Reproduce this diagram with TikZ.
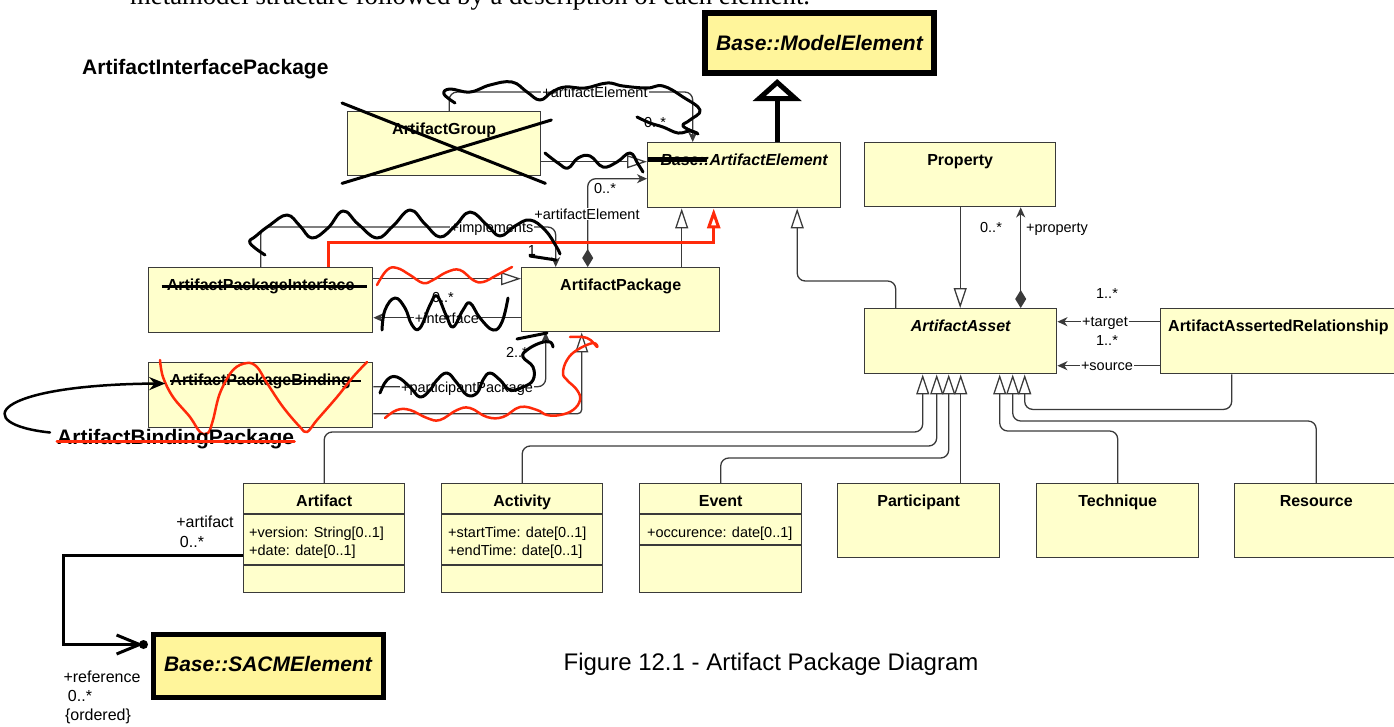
\documentclass[tikz,border=0pt]{standalone}
\usepackage{fontspec}
\setmainfont{Liberation Sans}
\newfontfamily\bodyserif{Liberation Serif}
\usetikzlibrary{positioning, arrows.meta}
\definecolor{clsfill}{HTML}{FFFFCC}
\definecolor{hotfill}{HTML}{FFF59B}
\definecolor{clsline}{HTML}{3A3A3A}
\definecolor{redink}{HTML}{FF2A0A}

\begin{document}
\begin{tikzpicture}[x=1pt, y=-1pt,
		cls/.style={draw=clsline, fill=clsfill, line width=1.4pt, inner sep=0pt, anchor=north west},
		hot/.style={draw=black, fill=hotfill, line width=6pt, inner sep=0pt, anchor=north west},
		cname/.style={font=\fontsize{16}{16}\selectfont\bfseries, inner sep=0pt, text height=11.5pt, text depth=0pt},
		cnamei/.style={cname, font=\fontsize{16}{16}\selectfont\bfseries\itshape},
		ttl/.style={font=\fontsize{21}{21}\selectfont\bfseries, inner sep=0pt, text height=15pt, text depth=0pt},
		attr/.style={font=\fontsize{14.5}{14.5}\selectfont, inner sep=0pt, anchor=base west},
		lbl/.style={font=\fontsize{14.5}{14.5}\selectfont, inner sep=1pt, text height=10.5pt, text depth=0pt},
		lblb/.style={lbl, font=\fontsize{16}{16}\selectfont, text height=11.5pt},
		lblw/.style={lbl, fill=white},
		conn/.style={draw=clsline, line width=1.3pt},
		gen/.style={conn, -{Triangle[length=20pt, width=13pt, fill=white]}},
		nav/.style={conn, -{Stealth[length=10pt, width=9pt, inset=3pt]}},
		comp/.style={conn, {Diamond[length=18pt, width=11pt]}-{Stealth[length=10pt, width=9pt, inset=3pt]}},
		strike/.style={line width=2.5pt},
		scrib/.style={line width=3pt, line cap=round, line join=round},
		rscrib/.style={scrib, draw=redink, line width=2.5pt}]
		\useasboundingbox (0,0) rectangle (1394,726);
		\clip (0,0) rectangle (1394,726);
		%%%%%%%%%%%%%
		\node[anchor=base west, inner sep=0pt, font=\bodyserif\fontsize{26.7}{26.7}\selectfont] (intro) at (130,4) {metamodel structure followed by a description of each element.};
		\node[ttl, anchor=base west] (ttlN) at (82,74) {ArtifactInterfacePackage};
		\node[font=\fontsize{24}{24}\selectfont, inner sep=0pt, anchor=base] (caption) at (771,670) {Figure 12.1 - Artifact Package Diagram};
		%%%%%%%%%%%%%
		\node[hot, minimum width=229pt, minimum height=60pt] (model) at (702,10) {};
		\node[ttl, font=\fontsize{21}{21}\selectfont\bfseries\itshape] (modelN) at (model.center) {Base::ModelElement};
		\node[hot, line width=5pt, minimum width=230pt, minimum height=63pt] (sacm) at (150.5,631.5) {};
		\node[ttl, font=\fontsize{21}{21}\selectfont\bfseries\itshape] (sacmN) at ([yshift=2pt]sacm.center) {Base::SACMElement};
		%%%%%%%%%%%%%
		\node[cls, minimum width=193pt, minimum height=64pt] (grp) at (347,111) {};
		\node[cls, minimum width=193pt, minimum height=65pt] (elem) at (647,142) {};
		\node[cls, minimum width=198pt, minimum height=64pt] (pkg) at (521,267) {};
		\node[cls, minimum width=224pt, minimum height=65pt] (iface) at (148,267) {};
		\node[cls, minimum width=224pt, minimum height=65pt] (bind) at (148,362) {};
		\node[cls, minimum width=191pt, minimum height=64pt] (prop) at (864,142) {};
		\node[cls, minimum width=192pt, minimum height=65pt] (asset) at (864,308) {};
		\node[cls, minimum width=240pt, minimum height=65pt] (rel) at (1160,308) {};
		\node[cls, minimum width=161pt, minimum height=109pt] (art) at (243,483) {};
		\node[cls, minimum width=161pt, minimum height=109pt] (act) at (441,483) {};
		\node[cls, minimum width=162pt, minimum height=109pt] (evt) at (639,483) {};
		\node[cls, minimum width=162pt, minimum height=74pt] (par) at (837,483) {};
		\node[cls, minimum width=162pt, minimum height=74pt] (tech) at (1036,483) {};
		\node[cls, minimum width=163pt, minimum height=74pt] (res) at (1234,483) {};
		%%%%%%%%%%%%%
		\node[cname, below=11.5pt of grp.north] (grpN) {ArtifactGroup};
		\node[cnamei, below=11.5pt of elem.north] (elemN) {Base::ArtifactElement};
		\node[cname, below=11.5pt of pkg.north] (pkgN) {ArtifactPackage};
		\node[cname, below=11.5pt of iface.north] (ifaceN) {ArtifactPackageInterface};
		\node[cname, below=11.5pt of bind.north] (bindN) {ArtifactPackageBinding};
		\node[cname, below=11.5pt of prop.north] (propN) {Property};
		\node[cnamei, below=11.5pt of asset.north] (assetN) {ArtifactAsset};
		\node[cname, anchor=north west] (relN) at (1168,319.5) {ArtifactAssertedRelationship};
		\node[cname, below=11.5pt of art.north] (artN) {Artifact};
		\node[cname, below=11.5pt of act.north] (actN) {Activity};
		\node[cname, below=11.5pt of evt.north] (evtN) {Event};
		\node[cname, below=11.5pt of par.north] (parN) {Participant};
		\node[cname, below=11.5pt of tech.north] (techN) {Technique};
		\node[cname, below=11.5pt of res.north] (resN) {Resource};
		%%%%%%%%%%%%%
		\draw[conn] ([yshift=-31pt]art.north west) -- ([yshift=-31pt]art.north east);
		\draw[conn] ([yshift=-82pt]art.north west) -- ([yshift=-82pt]art.north east);
		\draw[conn] ([yshift=-31pt]act.north west) -- ([yshift=-31pt]act.north east);
		\draw[conn] ([yshift=-82pt]act.north west) -- ([yshift=-82pt]act.north east);
		\draw[conn] ([yshift=-31pt]evt.north west) -- ([yshift=-31pt]evt.north east);
		\draw[conn] ([yshift=-62pt]evt.north west) -- ([yshift=-62pt]evt.north east);
		\node[attr] (artV) at (249,537) {+version: String[0..1]};
		\node[attr] (artD) at (249,555) {+date: date[0..1]};
		\node[attr] (actS) at (448,537) {+startTime: date[0..1]};
		\node[attr] (actE) at (448,555) {+endTime: date[0..1]};
		\node[attr] (evtO) at (647,537) {+occurence: date[0..1]};
		%%%%%%%%%%%%%
		\draw[line width=5pt, shorten >=3pt, -{Triangle[length=22pt, width=48pt, fill=white]}] ([xshift=33pt]elem.north) -- ([xshift=33pt]elem.north |- model.south);
		\draw[gen] ([yshift=-18pt]grp.east) -- ([yshift=-18pt]grp.east -| elem.west);
		\draw[nav, rounded corners=8pt] ([xshift=5pt]grp.north) -- ++(0,-19) -| ([xshift=-51.5pt]elem.north);
		\draw[comp, rounded corners=8pt] ([xshift=-33pt]pkg.north) |- ([yshift=-3.5pt]elem.west);
		\draw[gen] ([xshift=61pt]pkg.north) -- ([xshift=61pt]pkg.north |- elem.south);
		\draw[nav, rounded corners=8pt] (iface.north) -- ++(0,-40) -| ([xshift=-65pt]pkg.north);
		\draw[gen] ([yshift=21.5pt]iface.east) -- ([yshift=21.5pt]iface.east -| pkg.west);
		\draw[nav] ([yshift=-18pt]pkg.west) -- ([yshift=-18pt]pkg.west -| iface.east);
		\draw[nav, rounded corners=8pt] ([yshift=8.5pt]bind.east) -| ([xshift=-75pt]pkg.south);
		\draw[gen, rounded corners=4pt] ([yshift=-18.5pt]bind.east) -| ([xshift=-39pt]pkg.south);
		\draw[gen, rounded corners=8pt] ([xshift=-65pt]asset.north) -- ++(0,-27) -| ([xshift=53pt]elem.south);
		\draw[gen] (prop.south) -- (prop.south |- asset.north);
		\draw[comp] ([xshift=60pt]asset.north) -- ([xshift=60pt]asset.north |- prop.south);
		\draw[nav] ([yshift=19.5pt]rel.west) -- ([yshift=19.5pt]rel.west -| asset.east);
		\draw[nav] ([yshift=-24.5pt]rel.west) -- ([yshift=-24.5pt]rel.west -| asset.east);
		\draw[gen, rounded corners=8pt] (art.north) -- ++(0,-51) -| ([xshift=-38pt]asset.south);
		\draw[gen, rounded corners=8pt] (act.north) -- ++(0,-37) -| ([xshift=-24pt]asset.south);
		\draw[gen, rounded corners=8pt] (evt.north) -- ++(0,-25) -| ([xshift=-12pt]asset.south);
		\draw[gen] (par.north -| asset.south) -- (asset.south);
		\draw[gen, rounded corners=8pt] (tech.north) -- ++(0,-52) -| ([xshift=39pt]asset.south);
		\draw[gen, rounded corners=8pt] (res.north) -- ++(0,-62) -| ([xshift=52pt]asset.south);
		\draw[gen, rounded corners=8pt] ([xshift=-49pt]rel.south) -- ++(0,35) -| ([xshift=64pt]asset.south);
		\draw[line width=3pt, -{Straight Barb[length=23pt, width=19pt]}] ([yshift=-17.5pt]art.west) -- ++(-180,0) |- ([xshift=-7pt, yshift=21pt]sacm.west);
		\fill ([xshift=-7pt, yshift=21pt]sacm.west) circle (4.5pt);
		%%%%%%%%%%%%%
		\node[lblw] (l1) at (595,92) {+artifactElement};
		\node[lbl] (l2) at (655,122) {0..*};
		\node[lbl] (l3) at (605,188) {0..*};
		\node[lblw] (l4) at (587,214) {+artifactElement};
		\node[lblw] (l5) at (492,227) {+implements};
		\node[lbl] (l6) at (532,250) {1};
		\node[lbl] (l7) at (443,297) {0..*};
		\node[lblw] (l8) at (447,318) {+interface};
		\node[lbl] (l9) at (517,352) {2..*};
		\node[lblw] (l10) at (467,387) {+participantPackage};
		\node[lbl] (l11) at (991,227) {0..*};
		\node[lbl] (l12) at (1057,227) {+property};
		\node[lbl] (l13) at (1107,293) {1..*};
		\node[lblw] (l14) at (1105,321) {+target};
		\node[lbl] (l15) at (1107,340) {1..*};
		\node[lblw] (l16) at (1107,365) {+source};
		\node[lblb] (l17) at (205,522) {+artifact};
		\node[lblb] (l18) at (192,542) {0..*};
		\node[lblb] (l19) at (102,677) {+reference};
		\node[lblb] (l20) at (80,696) {0..*};
		\node[lblb] (l21) at (98,715) {\{ordered\}};
		%%%%%%%%%%%%%
		\draw[strike] ([xshift=-5pt, yshift=-2pt]ifaceN.west) -- ([xshift=12pt, yshift=-2pt]ifaceN.east);
		\draw[strike] ([yshift=-1.5pt]bindN.west) -- ([xshift=10pt, yshift=-1.5pt]bindN.east);
		\draw[line width=5pt] ([xshift=-12pt]elemN.west) -- ([xshift=47pt]elemN.west);
		\draw[scrib] ([xshift=-5pt, yshift=8pt]grp.north west) -- ([xshift=4pt, yshift=-7pt]grp.south east);
		\draw[scrib] ([xshift=-5pt, yshift=-7pt]grp.south west) -- ([xshift=10pt, yshift=-9pt]grp.north east);
		\draw[redink, line width=3pt, -{Triangle[length=20pt, width=13pt, fill=white]}] ([xshift=68pt]iface.north) -- ++(0,-25) -| ([xshift=-30.5pt]elem.south);
		%%%%%%%%%%%%%
		\draw[scrib] plot[smooth, tension=0.7] coordinates {(455,103) (444,94) (450,89) (470,92) (490,85) (512,82) (527,92) (540,100) (552,92) (565,87) (585,88) (607,83) (623,86) (647,88) (663,86) (683,97) (700,110) (690,120) (683,126) (697,133)};
		\draw[scrib] plot[smooth, tension=0.7] coordinates {(637,117) (650,123) (663,127) (678,133) (690,131) (698,134)};
		\draw[scrib] plot[smooth, tension=0.7] coordinates {(545,153) (558,163) (568,168) (578,158) (590,156) (603,167) (617,162) (630,153) (638,164) (643,172)};
		\draw[scrib] plot[smooth, tension=0.7] coordinates {(265,255) (250,243) (256,236) (270,225) (287,215) (300,226) (312,238) (328,228) (343,211) (358,224) (377,238) (393,226) (410,210) (425,224) (440,237) (455,226) (470,212) (487,225) (500,236) (515,226) (530,220) (545,230) (556,246) (560,254)};
		\draw[scrib] (530,256) -- (556,260);
		\draw[scrib] plot[smooth, tension=0.7] coordinates {(382,330) (385,310) (395,298) (405,308) (412,325) (420,328) (430,305) (437,296) (446,315) (453,327) (463,310) (470,303) (480,318) (493,330) (502,322) (508,298)};
		\draw[scrib] plot[smooth, tension=0.7] coordinates {(380,393) (387,380) (397,377) (410,387) (420,397) (430,390) (437,380) (447,373) (457,383) (467,395) (477,393) (483,380) (490,373) (500,380) (510,390) (523,387) (533,380) (533,367) (523,357) (527,350) (540,343) (550,342) (553,347)};
		\draw[scrib] (517,339) -- (547,333);
		\draw[rscrib] plot[smooth, tension=0.7] coordinates {(377,285) (387,270) (397,268) (410,275) (423,283) (433,280) (447,272) (460,270) (473,280) (483,282) (497,275) (512,267)};
		\draw[rscrib] plot[smooth, tension=0.7] coordinates {(385,418) (397,410) (410,410) (427,418) (440,420) (457,410) (470,408) (487,417) (503,417) (520,407) (537,410) (547,415) (560,415) (573,410) (580,400) (577,390) (567,380) (563,373) (567,360) (577,350) (593,343) (597,347) (587,338) (570,337)};
		\draw[rscrib] plot[smooth, tension=0.6] coordinates {(160,360) (163,377) (173,397) (190,417) (200,432) (208,433) (213,420) (220,393) (233,370) (247,363) (257,367) (267,383) (283,407) (300,427) (307,432) (317,420) (337,397) (353,377) (367,362)};
		%%%%%%%%%%%%%
		\node[ttl, anchor=base west] (bpkgN) at (57,444) {ArtifactBindingPackage};
		\draw[rscrib, line width=3pt] ([yshift=-5pt]bpkgN.west) -- ([yshift=-5pt]bpkgN.east);
		\draw[scrib, line width=2.5pt, -{Stealth[length=16pt, width=13pt]}] ([xshift=-7pt, yshift=4pt]bpkgN.west) .. controls (-30,424) and (-10,385) .. ([xshift=-5pt, yshift=-4pt]bindN.west);
	\end{tikzpicture}
\end{document}
